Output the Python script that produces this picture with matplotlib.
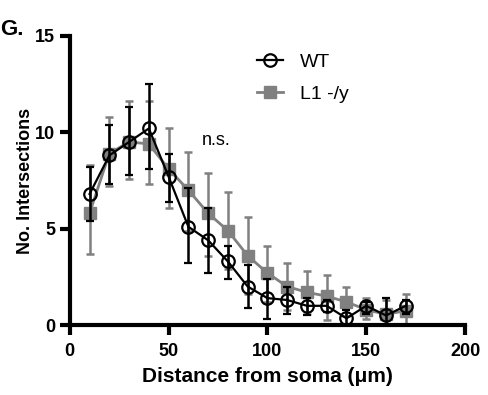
import matplotlib
matplotlib.use("Agg")
import matplotlib.pyplot as plt
from matplotlib.lines import Line2D
import numpy as np

plt.rcParams['font.family'] = ['Liberation Sans', 'DejaVu Sans']

distance = [10, 20, 30, 40, 50, 60, 70, 80, 90, 100, 110, 120, 130, 140, 150, 160, 170]

wt_mean = [6.8, 8.8, 9.5, 10.2, 7.7, 5.1, 4.4, 3.3, 2.0, 1.4, 1.3, 1.0, 1.0, 0.35, 1.0, 0.5, 1.0]
wt_upper = [8.2, 10.4, 11.3, 12.5, 8.9, 7.1, 6.1, 4.1, 3.1, 2.4, 2.0, 1.4, 1.3, 0.8, 1.2, 1.4, 1.3]
wt_lower = [5.4, 7.3, 7.8, 8.1, 6.4, 3.2, 2.7, 2.4, 0.9, 0.3, 0.6, 0.5, 0.7, 0.0, 0.6, 0.0, 0.6]

ko_mean = [5.8, 8.9, 9.5, 9.4, 8.1, 7.0, 5.8, 4.9, 3.6, 2.7, 2.0, 1.7, 1.5, 1.2, 0.8, 0.55, 0.75]
ko_upper = [8.3, 10.8, 11.6, 11.6, 10.2, 9.0, 7.9, 6.9, 5.6, 4.1, 3.2, 2.8, 2.6, 2.0, 1.4, 1.3, 1.6]
ko_lower = [3.7, 7.2, 7.6, 7.3, 6.1, 4.9, 3.6, 2.9, 1.6, 1.2, 0.8, 0.6, 0.25, 0.45, 0.3, 0.0, 0.05]

x_ticks = [0, 50, 100, 150, 200]
y_ticks = [0, 5, 10, 15]

KO_COLOR = '#808080'

fig = plt.figure(figsize=(4.88, 3.95), dpi=100)
ax = fig.add_axes([0.143, 0.177, 0.81, 0.732])

ko_err = [np.array(ko_mean) - np.array(ko_lower), np.array(ko_upper) - np.array(ko_mean)]
wt_err = [np.array(wt_mean) - np.array(wt_lower), np.array(wt_upper) - np.array(wt_mean)]

ax.errorbar(distance, ko_mean, yerr=ko_err, color=KO_COLOR, marker='s', markersize=8,
            linewidth=2, elinewidth=1.8, capsize=3, capthick=1.8, zorder=2)
ax.errorbar(distance, wt_mean, yerr=wt_err, color='black', marker='o', markersize=9,
            markerfacecolor='none', markeredgewidth=1.6,
            linewidth=1.6, elinewidth=1.8, capsize=3, capthick=1.8, zorder=3)

ax.set_xlim(0, 200)
ax.set_ylim(0, 15)
ax.set_xticks(x_ticks)
ax.set_yticks(y_ticks)
ax.spines['top'].set_visible(False)
ax.spines['right'].set_visible(False)
for s in ['left', 'bottom']:
    ax.spines[s].set_linewidth(3)
ax.tick_params(width=3, length=7, direction='out', labelsize=13)
ax.tick_params(axis='x', pad=6)
for lbl in ax.get_xticklabels() + ax.get_yticklabels():
    lbl.set_fontweight('bold')
ax.set_xlabel('Distance from soma (μm)', fontsize=15, fontweight='bold', labelpad=5)
ax.set_ylabel('No. Intersections', fontsize=13, fontweight='bold', labelpad=1)

handles = [
    Line2D([], [], color='black', marker='o', markersize=9, markerfacecolor='none',
           markeredgewidth=1.6, linewidth=1.6),
    Line2D([], [], color=KO_COLOR, marker='s', markersize=8, linewidth=2),
]
ax.legend(handles, ['WT', 'L1 -/y'], loc='upper left', bbox_to_anchor=(0.43, 1.0),
          frameon=False, fontsize=14, handlelength=1.3, handletextpad=0.9,
          labelspacing=0.75)

ax.text(74, 9.6, 'n.s.', fontsize=13, ha='center', va='center')

fig.text(0.0, 0.925, 'G.', fontsize=16, fontweight='bold', ha='left', va='center')

fig.savefig('out.png', dpi=100)
